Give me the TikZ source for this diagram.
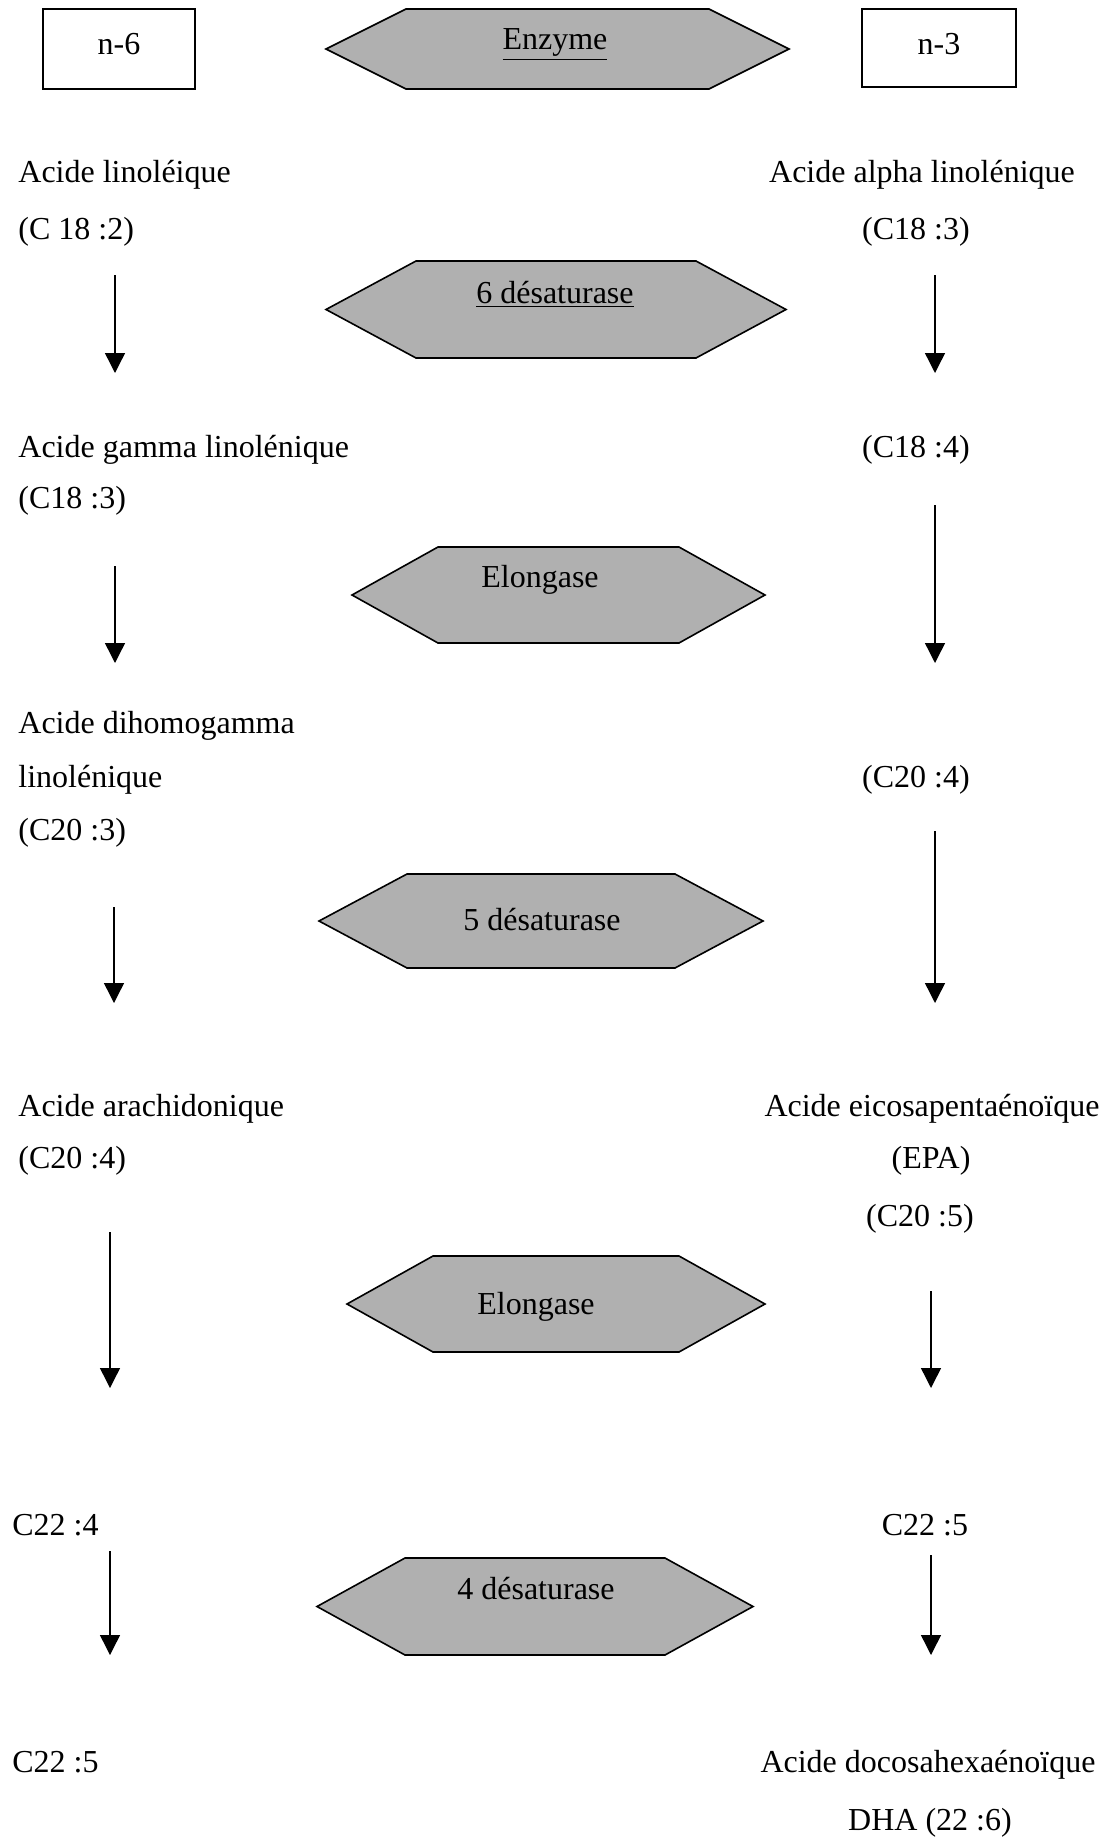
\documentclass[tikz,border=0pt]{standalone}
\usepackage{fontspec}
\setmainfont{Liberation Serif}
\usetikzlibrary{arrows.meta}
\newcommand{\hexa}[5]{%
  \draw[hexs] (#1,{(#3+#4)/2}) -- (#1+#5,#3) -- (#2-#5,#3) -- (#2,{(#3+#4)/2}) -- (#2-#5,#4) -- (#1+#5,#4) -- cycle;}
\begin{document}
\begin{tikzpicture}[x=0.5pt,y=-0.5pt,
  txt/.style={inner sep=0pt,font=\fontsize{16pt}{19pt}\selectfont},
  lt/.style={txt,anchor=base west},
  rt/.style={txt,anchor=base},
  hexs/.style={draw=black,line width=0.8pt,fill=gray!62},
  boxs/.style={draw=black,line width=0.8pt},
  arr/.style={line width=0.7pt,-{Triangle[width=10pt,length=10pt]}}]
\useasboundingbox (0,0) rectangle (1116,1841);

% header
\draw[boxs] (43,9) rectangle (195,89);
\node[rt] (n6) at (119,55) {n-6};
\draw[boxs] (862,9) rectangle (1016,87);
\node[rt] (n3) at (939,55) {n-3};
\hexa{326}{789}{9}{89}{80}
\node[rt] (enz) at (555,50) {\underline{Enzyme}};

% enzymes
\hexa{326}{786}{261}{358}{90}
\node[rt] (e1) at (555,303) {\underline{6 désaturase}};
\hexa{352}{765}{547}{643}{86}
\node[rt] (e2) at (540,587) {Elongase};
\hexa{319}{763}{874}{968}{88}
\node[rt] (e3) at (542,930) {5 désaturase};
\hexa{347}{765}{1256}{1352}{86}
\node[rt] (e4) at (536,1314) {Elongase};
\hexa{317}{753}{1558}{1655}{88}
\node[rt] (e5) at (536,1599) {4 désaturase};

% left column (n-6)
\node[lt] (l1) at (18,183) {Acide linoléique};
\node[lt] (l2) at (18,239) {(C 18 :2)};
\node[lt] (l3) at (18,457) {Acide gamma linolénique};
\node[lt] (l4) at (18,508) {(C18 :3)};
\node[lt] (l5) at (18,733) {Acide dihomogamma};
\node[lt] (l6) at (18,787) {linolénique};
\node[lt] (l7) at (18,840) {(C20 :3)};
\node[lt] (l8) at (18,1116) {Acide arachidonique};
\node[lt] (l9) at (18,1168) {(C20 :4)};
\node[lt] (l10) at (12,1535) {C22 :4};
\node[lt] (l11) at (12,1772) {C22 :5};

% right column (n-3)
\node[rt] (r1) at (922,183) {Acide alpha linolénique};
\node[rt] (r2) at (916,239) {(C18 :3)};
\node[rt] (r3) at (916,457) {(C18 :4)};
\node[rt] (r4) at (916,787) {(C20 :4)};
\node[rt] (r5) at (932,1116) {Acide eicosapentaénoïque};
\node[rt] (r6) at (931,1168) {(EPA)};
\node[rt] (r7) at (920,1226) {(C20 :5)};
\node[rt] (r8) at (925,1535) {C22 :5};
\node[rt] (r9) at (928,1772) {Acide docosahexaénoïque};
\node[rt] (r10) at (930,1830) {DHA (22 :6)};

% arrows left
\coordinate (a1s) at (115,275); \coordinate (a1e) at (115,373);
\coordinate (a2s) at (115,566); \coordinate (a2e) at (115,663);
\coordinate (a3s) at (114,907); \coordinate (a3e) at (114,1003);
\coordinate (a4s) at (110,1232); \coordinate (a4e) at (110,1388);
\coordinate (a5s) at (110,1551); \coordinate (a5e) at (110,1655);
\foreach \i in {1,...,5} \draw[arr] (a\i s) -- (a\i e);

% arrows right
\coordinate (b1s) at (935,275); \coordinate (b1e) at (935,373);
\coordinate (b2s) at (935,505); \coordinate (b2e) at (935,663);
\coordinate (b3s) at (935,831); \coordinate (b3e) at (935,1003);
\coordinate (b4s) at (931,1291); \coordinate (b4e) at (931,1388);
\coordinate (b5s) at (931,1555); \coordinate (b5e) at (931,1655);
\foreach \i in {1,...,5} \draw[arr] (b\i s) -- (b\i e);
\end{tikzpicture}
\end{document}
